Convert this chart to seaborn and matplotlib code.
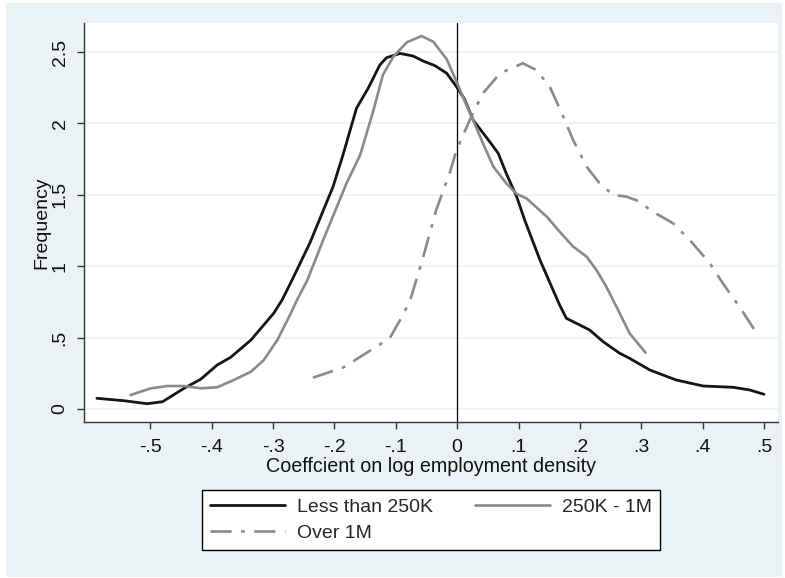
import matplotlib
matplotlib.use("Agg")
import matplotlib.pyplot as plt
from matplotlib.patches import Rectangle
import seaborn as sns
import pandas as pd

# ---- data ----
x_small = [-0.587, -0.543, -0.505, -0.480, -0.445, -0.418, -0.391, -0.369, -0.336, -0.299,
           -0.285, -0.269, -0.240, -0.202, -0.186, -0.164, -0.145, -0.126, -0.115, -0.093,
           -0.072, -0.055, -0.036, -0.017, -0.001, 0.012, 0.026, 0.053, 0.067, 0.080,
           0.097, 0.110, 0.135, 0.167, 0.178, 0.200, 0.216, 0.238, 0.265, 0.281,
           0.314, 0.357, 0.401, 0.450, 0.477, 0.500]
y_small = [0.075, 0.058, 0.037, 0.051, 0.145, 0.208, 0.308, 0.362, 0.483, 0.670,
           0.765, 0.903, 1.162, 1.559, 1.779, 2.106, 2.246, 2.409, 2.460, 2.490,
           2.472, 2.436, 2.404, 2.351, 2.257, 2.170, 2.024, 1.872, 1.790, 1.650,
           1.487, 1.324, 1.043, 0.728, 0.635, 0.588, 0.553, 0.471, 0.390, 0.355,
           0.273, 0.203, 0.161, 0.152, 0.133, 0.103]

x_mid = [-0.532, -0.499, -0.472, -0.445, -0.418, -0.391, -0.364, -0.336, -0.315, -0.293,
         -0.271, -0.262, -0.244, -0.218, -0.180, -0.158, -0.137, -0.121, -0.104, -0.082,
         -0.058, -0.039, -0.017, -0.001, 0.015, 0.026, 0.042, 0.059, 0.080, 0.097,
         0.113, 0.146, 0.167, 0.189, 0.211, 0.227, 0.243, 0.265, 0.281, 0.307]
y_mid = [0.098, 0.145, 0.161, 0.161, 0.145, 0.152, 0.203, 0.261, 0.343, 0.483,
         0.670, 0.754, 0.903, 1.186, 1.583, 1.779, 2.082, 2.339, 2.467, 2.568,
         2.612, 2.572, 2.450, 2.292, 2.129, 2.024, 1.861, 1.697, 1.581, 1.506,
         1.475, 1.347, 1.242, 1.137, 1.067, 0.973, 0.857, 0.670, 0.530, 0.394]

x_large = [-0.235, -0.185, -0.110, -0.093, -0.077, -0.055, -0.034, -0.012, -0.001, 0.023,
           0.042, 0.070, 0.107, 0.129, 0.151, 0.173, 0.189, 0.211, 0.232, 0.254,
           0.276, 0.298, 0.314, 0.352, 0.379, 0.412, 0.433, 0.460, 0.490]
y_large = [0.219, 0.292, 0.495, 0.623, 0.754, 1.069, 1.396, 1.653, 1.814, 2.047,
           2.211, 2.351, 2.421, 2.374, 2.257, 2.047, 1.884, 1.697, 1.581, 1.499,
           1.487, 1.452, 1.394, 1.300, 1.183, 1.020, 0.880, 0.716, 0.518]

series_names = ["Less than 250K", "250K - 1M", "Over 1M"]
x_ticks = [-0.5, -0.4, -0.3, -0.2, -0.1, 0.0, 0.1, 0.2, 0.3, 0.4, 0.5]
x_ticklabels = ["-.5", "-.4", "-.3", "-.2", "-.1", "0", ".1", ".2", ".3", ".4", ".5"]
y_ticks = [0, 0.5, 1, 1.5, 2, 2.5]
y_ticklabels = ["0", ".5", "1", "1.5", "2", "2.5"]

df = pd.concat([
    pd.DataFrame({"x": x_small, "y": y_small, "group": series_names[0]}),
    pd.DataFrame({"x": x_mid, "y": y_mid, "group": series_names[1]}),
    pd.DataFrame({"x": x_large, "y": y_large, "group": series_names[2]}),
], ignore_index=True)

sns.set_theme(style="white")
plt.rcParams["font.family"] = ["Liberation Sans", "DejaVu Sans"]

W, H = 785, 578
fig = plt.figure(figsize=(W / 100, H / 100), dpi=100)
fig.patch.set_facecolor("white")
bg = "#eaf2f3"
fig.patches.append(Rectangle((6 / W, 1 - 577 / H), (782 - 6) / W, (577 - 3) / H,
                             transform=fig.transFigure, facecolor=bg, edgecolor="none", zorder=-10))

ax = fig.add_axes([84 / W, 1 - 422 / H, (777.5 - 84) / W, (422 - 23) / H])
ax.set_facecolor("white")

colors = {series_names[0]: "#151515", series_names[1]: "#8a8a8a", series_names[2]: "#8a8a8a"}
styles = {series_names[0]: "-", series_names[1]: "-", series_names[2]: (0, (8, 3.6, 1.4, 3.6))}
widths = {series_names[0]: 2.0, series_names[1]: 1.9, series_names[2]: 1.9}

for name in series_names:
    sub = df[df["group"] == name]
    sns.lineplot(data=sub, x="x", y="y", ax=ax, color=colors[name], linewidth=widths[name],
                 linestyle=styles[name], label=name, legend=False, estimator=None, sort=True)

ax.axvline(0, color="black", linewidth=0.9, zorder=1)

ax.set_xlim(-0.608, 0.522)
ax.set_ylim(-0.091, 2.703)
ax.set_xticks(x_ticks)
ax.set_xticklabels(x_ticklabels)
ax.set_yticks(y_ticks)
ax.set_yticklabels(y_ticklabels, rotation=90, va="center")

ax.grid(axis="y", color=bg, linewidth=1.2)
ax.grid(axis="x", visible=False)
ax.set_axisbelow(True)

for s in ["top", "right"]:
    ax.spines[s].set_visible(False)
for s in ["left", "bottom"]:
    ax.spines[s].set_color("#333333")
    ax.spines[s].set_linewidth(1.0)

ax.tick_params(axis="both", which="major", direction="out", length=5, width=1.0,
               color="#333333", labelsize=14, labelcolor="#111111", bottom=True, left=True)
ax.tick_params(axis="x", pad=7)
ax.tick_params(axis="y", pad=6)

ax.set_xlabel("Coeffcient on log employment density", fontsize=14.2, color="#111111", labelpad=1)
ax.set_ylabel("Frequency", fontsize=14, color="#111111", labelpad=1)

handles, labels = ax.get_legend_handles_labels()
order = [0, 2, 1]
leg = fig.legend([handles[i] for i in order], [labels[i] for i in order],
                 ncol=2, loc="center", bbox_to_anchor=((202 + 660) / 2 / W, 1 - 520 / H),
                 frameon=True, fancybox=False, edgecolor="black", facecolor="white",
                 fontsize=14, handlelength=3.85, columnspacing=2.2, handletextpad=0.6,
                 labelspacing=0.4, borderpad=0.42, framealpha=1)
leg.get_frame().set_linewidth(1.0)

fig.savefig("out.png", dpi=100, facecolor=fig.get_facecolor())
